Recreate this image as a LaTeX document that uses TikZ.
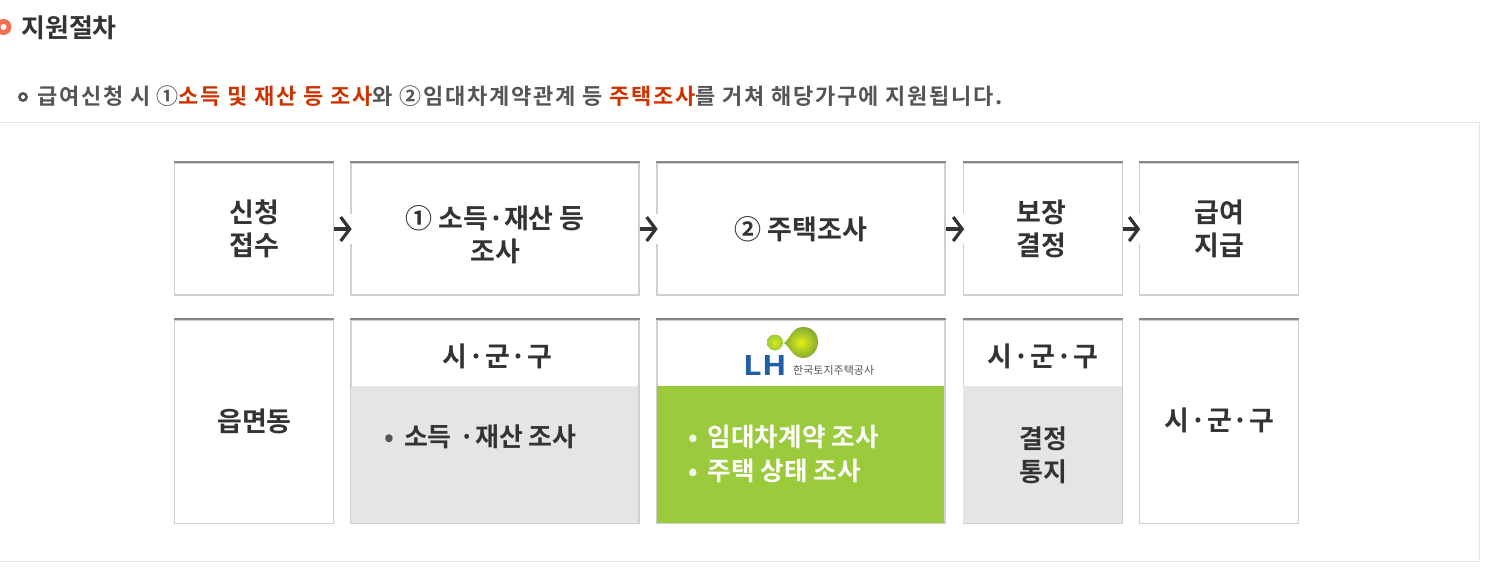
\documentclass[tikz,border=0pt]{standalone}
\usepackage{fontspec}
\setmainfont{Noto Sans CJK KR}
\newfontfamily\krm{Noto Sans CJK KR Bold}
\newfontfamily\krsp[LetterSpace=7.8]{Noto Sans CJK KR Bold}
\newfontfamily\krb{Noto Sans CJK KR Bold}
\usetikzlibrary{arrows.meta,calc}
\definecolor{bordergray}{HTML}{CFCFCF}
\definecolor{topgray}{HTML}{8E8787}
\definecolor{fillgray}{HTML}{E5E5E5}
\definecolor{lhgreen}{HTML}{9BCA3C}
\definecolor{inkdark}{HTML}{333333}
\definecolor{inkmid}{HTML}{555555}
\definecolor{redtext}{HTML}{CC3300}
\definecolor{ringorange}{HTML}{F0704F}
\definecolor{panelline}{HTML}{E6E6E6}
\definecolor{lhblue}{HTML}{1F5FA8}
\tikzset{
  panelbox/.style={draw=bordergray,line width=1.6pt,fill=white,inner sep=0pt,anchor=north west,align=center,text=inkdark,font=\fontsize{27}{33}\selectfont\krm},
  subfill/.style={inner sep=0pt,anchor=north west},
  label/.style={inner sep=0pt,text=inkdark,font=\fontsize{27}{33}\selectfont\krm},
  leftlabel/.style={label,anchor=west,align=left},
  flow/.style={draw=inkdark,line width=3.2pt,-{Straight Barb[length=9pt,width=24pt,line width=3.2pt]}},
  topedge/.style={draw=topgray,line width=2.2pt},
  gapline/.style={draw=white,line width=3pt},
}
\begin{document}
\begin{tikzpicture}[x=1pt,y=-1pt]
\useasboundingbox (0,0) rectangle (1499,577);
% outer panel
\draw[panelline,line width=1pt] (0,122.5) -- (1479.5,122.5) -- (1479.5,561.5) -- (0,561.5);
% headings
\fill[ringorange] (3.5,27) circle (8pt);
\fill[white] (3.5,27) circle (3pt);
\node[anchor=west,inner sep=0pt,text=inkdark,font=\fontsize{26}{26}\selectfont\krb] (title) at (21,27.5) {지원절차};
\fill[inkmid] (23,97) circle (5pt);
\fill[white] (23,97) circle (2pt);
\node[anchor=west,inner sep=0pt,text=inkmid,font=\fontsize{22}{22}\selectfont\krsp] (intro) at (37,96.5)
  {급여신청 시 ①\textcolor{redtext}{소득 및 재산 등 조사}와 ②임대차계약관계 등 \textcolor{redtext}{주택조사}를 거쳐 해당가구에 지원됩니다.};
% top row
\node[panelbox,minimum width=159pt,minimum height=132.5pt] (a1) at (173.7,162) {신청\\접수};
\node[panelbox,minimum width=288pt,minimum height=132.5pt] (a2) at (350.2,162) {\rule{0pt}{34pt}① 소득·재산 등\\조사};
\node[panelbox,minimum width=288pt,minimum height=132.5pt] (a3) at (656.2,162) {② 주택조사};
\node[panelbox,minimum width=159pt,minimum height=132.5pt] (a4) at (962.7,162) {\hspace*{-3pt}보장\\\hspace*{-3pt}결정};
\node[panelbox,minimum width=159pt,minimum height=132.5pt] (a5) at (1138.7,162) {급여\\지급};
% bottom row
\node[panelbox,minimum width=159pt,minimum height=203.5pt] (b1) at (173.7,319) {};
\node[panelbox,minimum width=288pt,minimum height=203.5pt] (b2) at (350.2,319) {};
\node[panelbox,minimum width=288pt,minimum height=203.5pt] (b3) at (656.2,319) {};
\node[panelbox,minimum width=159pt,minimum height=203.5pt] (b4) at (962.7,319) {};
\node[panelbox,minimum width=159pt,minimum height=203.5pt] (b5) at (1138.7,319) {};
\node[subfill,fill=fillgray,minimum width=287.5pt,minimum height=136.5pt] (f2) at (350.7,386) {};
\node[subfill,fill=lhgreen,minimum width=287.5pt,minimum height=136.5pt] (f3) at (656.7,386) {};
\node[subfill,fill=fillgray,minimum width=158.5pt,minimum height=136.5pt] (f4) at (963.2,386) {};
\foreach \n in {a1,a2,a3,a4,a5,b1,b2,b3,b4,b5}
  \draw[topedge] (\n.north west) -- (\n.north east);
% bottom texts
\node[label] (t1) at (254.5,421) {읍면동};
\node[label] (t2) at (497.5,356) {시\hspace{1pt}·\hspace{1pt}군\hspace{1pt}·\hspace{1pt}구};
\node[leftlabel,font=\fontsize{26}{33}\selectfont\krm] (t3) at (384,437) {\textcolor{inkmid}{•}\hspace{10pt}소득 \hspace{2pt}·재산 조사};
\node[label] (t4) at (1043,356) {시\hspace{1pt}·\hspace{1pt}군\hspace{1pt}·\hspace{1pt}구};
\node[label,align=center,font=\fontsize{26}{33}\selectfont\krm] (t5) at (1043.5,455) {결정\\통지};
\node[label] (t6) at (1219.5,420) {시\hspace{1pt}·\hspace{1pt}군\hspace{1pt}·\hspace{1pt}구};
\node[leftlabel,text=white,font=\fontsize{25.6}{33}\selectfont\krm] (t7) at (688,454) {\textcolor{white!85!lhgreen}{•}\hspace{10pt}임대차계약 조사\\[1pt]\textcolor{white!85!lhgreen}{•}\hspace{10pt}주택 상태 조사};
% logo
\shade[inner color=yellow!60!lhgreen,outer color=lhgreen] (775,342.5) circle (8pt);
\shade[inner color=yellow!70!lhgreen,outer color=lhgreen!85!black] (784,343)
  .. controls (790,339) and (792,327) .. (803,327) .. controls (813,327) and (818,334) .. (818,342)
  .. controls (818,351) and (811,358) .. (803,358) .. controls (793,358) and (790,347) .. (784,343) -- cycle;
\node[inner sep=0pt,text=lhblue,xscale=1.2,font=\fontsize{27}{27}\selectfont\krb] (lh) at (765.5,365) {LH};
\node[inner sep=0pt,anchor=west,text=inkmid,font=\fontsize{11}{11}\selectfont] (lhname) at (793,370) {한국토지주택공사};
% connectors
\foreach \p/\q in {a1/a2,a2/a3,a3/a4,a4/a5}{
  \draw[gapline] ($(\q.west)+(0,-15)$) -- ($(\q.west)+(0,15)$);
  \draw[flow] (\p.east) -- ($(\q.west)+(1.5,0)$);
}
\end{tikzpicture}
\end{document}
